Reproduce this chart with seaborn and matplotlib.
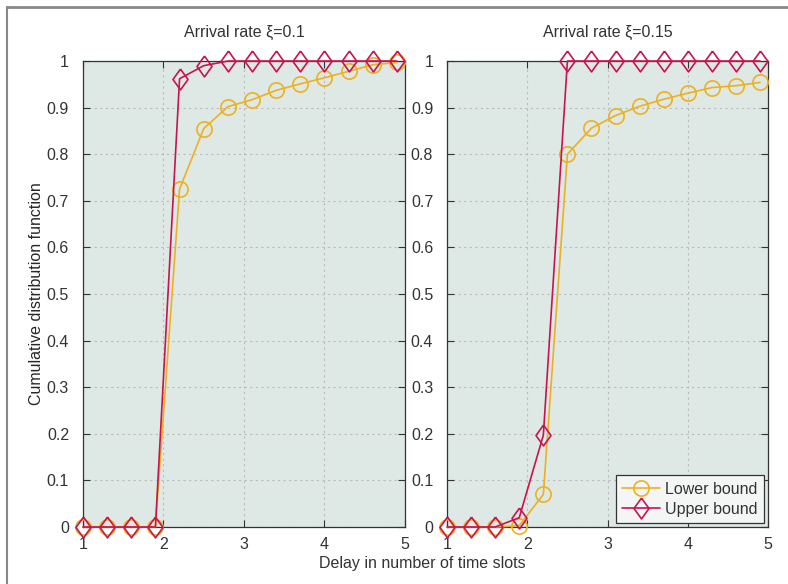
import numpy as np
import pandas as pd
import matplotlib
matplotlib.use('Agg')
import matplotlib.pyplot as plt
import seaborn as sns
from matplotlib.lines import Line2D

# delay values (time slots)
delay = [1.0, 1.3, 1.6, 1.9, 2.2, 2.5, 2.8, 3.1, 3.4, 3.7, 4.0, 4.3, 4.6, 4.9]

# arrival rate 0.1
lower_01 = [0, 0, 0, 0, 0.725, 0.855, 0.902, 0.917, 0.937, 0.951, 0.964, 0.978, 0.992, 0.997]
upper_01 = [0, 0, 0, 0, 0.962, 0.990, 1.0, 1.0, 1.0, 1.0, 1.0, 1.0, 1.0, 1.0]

# arrival rate 0.15
lower_015 = [0, 0, 0, 0.003, 0.070, 0.800, 0.856, 0.883, 0.903, 0.918, 0.931, 0.943, 0.947, 0.954]
upper_015 = [0, 0, 0, 0.020, 0.197, 1.0, 1.0, 1.0, 1.0, 1.0, 1.0, 1.0, 1.0, 1.0]

titles = ['Arrival rate \u03be=0.1', 'Arrival rate \u03be=0.15']
series = [(lower_01, upper_01), (lower_015, upper_015)]

sns.set_style('ticks')
plt.rcParams['font.family'] = ['Liberation Sans', 'DejaVu Sans']
plt.rcParams['text.color'] = '#333333'
plt.rcParams['xtick.color'] = '#333333'
plt.rcParams['ytick.color'] = '#333333'

c_low = '#EDB120'
c_up = '#C8144E'
fs = 11.5
# taller-than-wide diamond like the original
diamond = [(0, 1), (0.72, 0), (0, -1), (-0.72, 0), (0, 1)]

fig = plt.figure(figsize=(7.88, 5.84), dpi=100)
ax1 = fig.add_axes([0.1053, 0.0976, 0.4086, 0.7979])
ax2 = fig.add_axes([0.5673, 0.0976, 0.4074, 0.7979])

for ax, title, (lo, up) in zip([ax1, ax2], titles, series):
    ax.set_facecolor('#DEE8E4')
    df = pd.DataFrame({'delay': delay, 'lower': lo, 'upper': up})
    sns.lineplot(data=df, x='delay', y='lower', ax=ax, color=c_low, lw=1.2,
                 marker='o', markersize=11, markerfacecolor='none',
                 markeredgecolor=c_low, markeredgewidth=1.2, clip_on=False, zorder=3)
    sns.lineplot(data=df, x='delay', y='upper', ax=ax, color=c_up, lw=1.2,
                 marker=diamond, markersize=15, markerfacecolor='none',
                 markeredgecolor=c_up, markeredgewidth=1.2, clip_on=False, zorder=4)
    ax.set_xlim(1, 5)
    ax.set_ylim(0, 1)
    ax.set_xticks([1, 2, 3, 4, 5])
    ax.set_yticks(np.arange(0, 1.01, 0.1))
    ax.set_yticklabels(['0', '0.1', '0.2', '0.3', '0.4', '0.5', '0.6', '0.7', '0.8', '0.9', '1'])
    ax.grid(True, linestyle=(0, (2, 3)), color='#BBBBBB', lw=0.8)
    ax.tick_params(direction='in', length=5, width=0.8, top=True, right=True,
                   labelsize=fs)
    ax.tick_params(axis='y', pad=10)
    ax.tick_params(axis='x', pad=7)
    for s in ax.spines.values():
        s.set_color('#333333')
        s.set_linewidth(0.9)
    ax.set_xlabel('')
    ax.set_ylabel('')
    ax.set_title(title, fontsize=fs, pad=17)

ax1.set_ylabel('Cumulative distribution function', fontsize=fs, labelpad=2)
fig.text(0.536, 0.028, 'Delay in number of time slots', ha='center', fontsize=fs)

handles = [Line2D([], [], color=c_low, lw=1.2, marker='o', markersize=11,
                  markerfacecolor='none', markeredgewidth=1.2),
           Line2D([], [], color=c_up, lw=1.2, marker=diamond, markersize=15,
                  markerfacecolor='none', markeredgewidth=1.2)]
leg = ax2.legend(handles, ['Lower bound', 'Upper bound'], loc='lower right',
                 fontsize=fs, fancybox=False, framealpha=1, facecolor='#F3F6F5',
                 edgecolor='#333333', handlelength=2.4, borderpad=0.4,
                 labelspacing=0.3, borderaxespad=0.25, handletextpad=0.3)
leg.get_frame().set_linewidth(0.9)

# outer frame lines (top and left)
fig.add_artist(Line2D([0.009, 1.0], [0.988, 0.988], color='#888888', lw=2, transform=fig.transFigure))
fig.add_artist(Line2D([0.009, 0.009], [0.0, 0.988], color='#888888', lw=1.5, transform=fig.transFigure))

fig.savefig('out.png', dpi=100)
